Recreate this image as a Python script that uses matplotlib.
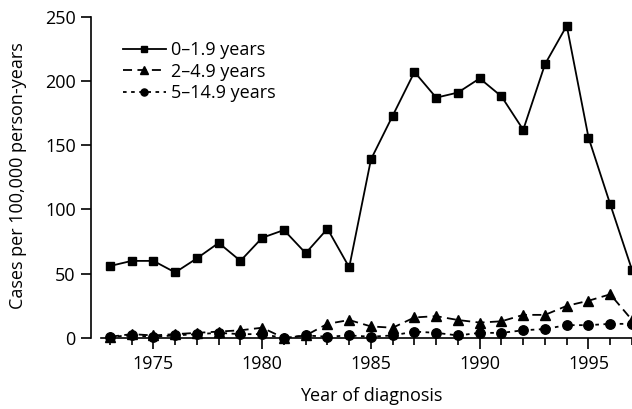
import numpy as np
import matplotlib
matplotlib.use("Agg")
import matplotlib.pyplot as plt
from matplotlib.ticker import MultipleLocator

plt.rcParams['font.family'] = ['Open Sans', 'DejaVu Sans']

years = list(range(1973, 1998))
infants = [56, 60, 60, 51, 62, 74, 60, 78, 84, 66, 85, 55,
           139, 173, 207, 187, 191, 202, 188, 162, 213, 243, 156, 104, 53]
toddlers = [1, 3, 2, 3, 4, 5, 6, 8, 0, 2, 11, 14,
            9, 8, 16, 17, 14, 12, 13, 18, 18, 25, 29, 34, 14]
children = [1, 2, 1, 2, 3, 4, 3, 3, 0, 2, 1, 2,
            1, 2, 5, 4, 2, 4, 4, 6, 7, 10, 10, 11, 11]
labels = ["0\u20131.9 years", "2\u20134.9 years", "5\u201314.9 years"]

fig = plt.figure(figsize=(6.32, 4.09), dpi=100)
ax = fig.add_axes([91 / 632, 71 / 409, 1 - 91 / 632, 338 / 409])

ax.plot(years, infants, color='black', lw=1.3, marker='s', ms=6.3,
        label=labels[0], clip_on=False)
ax.plot(years, toddlers, color='black', lw=1.3, marker='^', ms=6.8,
        dashes=(5, 3), label=labels[1], clip_on=False)
ax.plot(years, children, color='black', lw=1.3, marker='o', ms=6.8,
        dashes=(2, 2.5), label=labels[2], clip_on=False)

ax.set_xlim(1972.13, 1997.0)
ax.set_ylim(0, 263)
ax.set_yticks([0, 50, 100, 150, 200, 250])
ax.xaxis.set_major_locator(MultipleLocator(5))
ax.xaxis.set_minor_locator(MultipleLocator(1))
ax.set_xticks([1975, 1980, 1985, 1990, 1995])

for side in ('top', 'right'):
    ax.spines[side].set_visible(False)
ax.spines['left'].set_bounds(0, 250)
ax.spines['bottom'].set_bounds(1972.6, 1997.0)
ax.spines['left'].set_linewidth(1.2)
ax.spines['bottom'].set_linewidth(1.2)

ax.tick_params(axis='both', which='major', length=8, width=1.2,
               labelsize=13, direction='out', pad=4)
ax.tick_params(axis='x', which='minor', length=5, width=1.2, direction='out')
ax.tick_params(axis='y', which='major', length=7)

fig.text(371 / 632, 1 - 396 / 409, "Year of diagnosis", ha='center',
         va='center', fontsize=13)
fig.text(18 / 632, 1 - 176 / 409, "Cases per 100,000 person-years",
         rotation=90, ha='center', va='center', fontsize=13)

ax.legend(loc='upper left', bbox_to_anchor=(0.045, 0.90), frameon=False,
          fontsize=13, handlelength=2.4, handletextpad=0.3,
          labelspacing=0.2, borderaxespad=0, markerscale=0.75)

fig.savefig("out.png", dpi=100)
